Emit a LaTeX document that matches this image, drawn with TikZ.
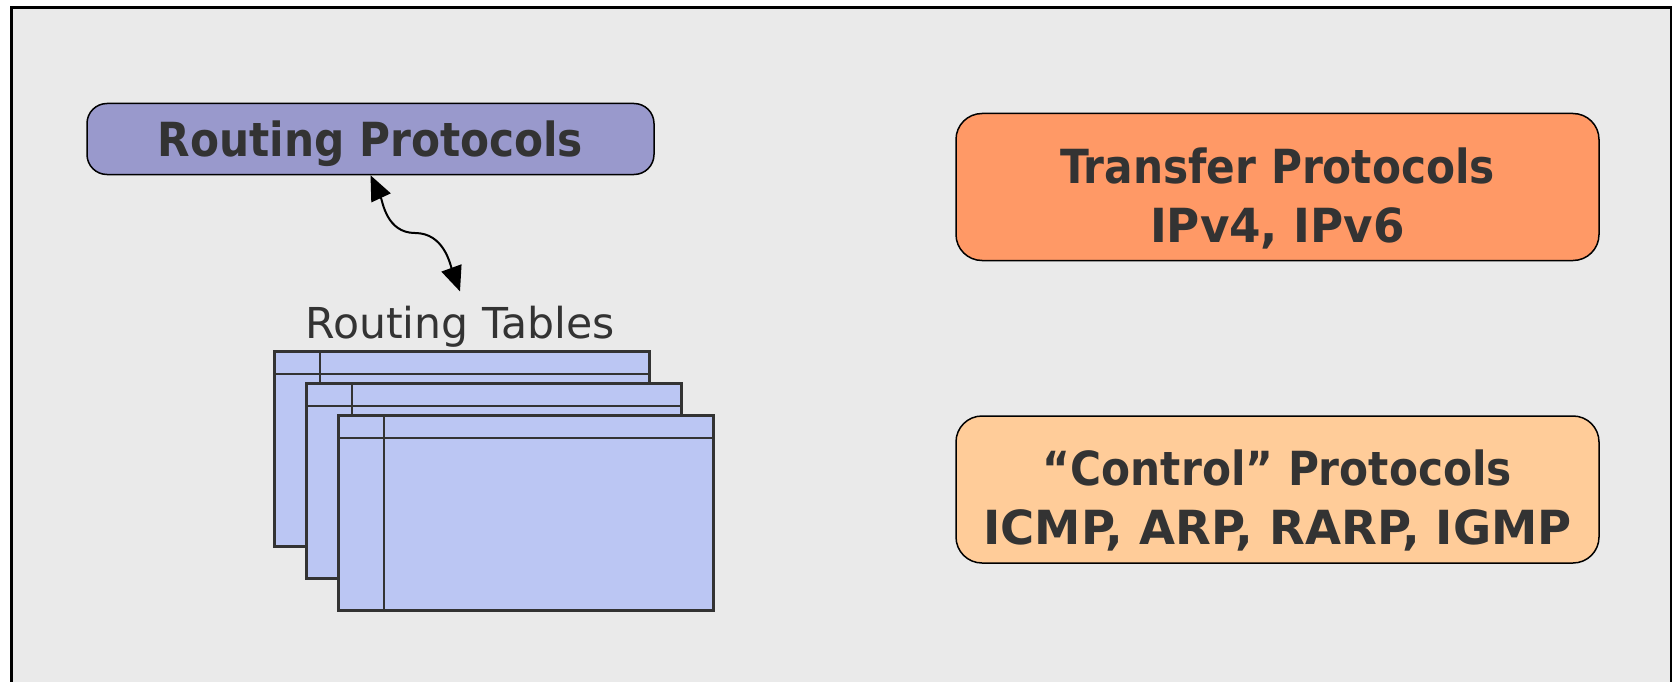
\documentclass[tikz,border=0pt]{standalone}
\usepackage{fontspec}
\setmainfont{DejaVu Sans Condensed}
\newfontfamily\widesans{DejaVu Sans}
\usetikzlibrary{arrows.meta}
\definecolor{bggray}{HTML}{EAEAEA}
\definecolor{routeblue}{HTML}{9999CC}
\definecolor{transorange}{HTML}{FF9966}
\definecolor{ctrlpeach}{HTML}{FFCC99}
\definecolor{tableblue}{HTML}{BBC6F3}
\definecolor{inkgray}{HTML}{333333}
\begin{document}
\begin{tikzpicture}[x=1pt,y=-1pt,
	proto/.style={draw,line width=1.5pt,rounded corners=26pt,text=inkgray,align=center,inner sep=0pt,
		font=\bfseries\fontsize{47}{59}\selectfont,minimum width=643pt,minimum height=147pt,
		text height=110pt,text depth=0pt},
	rtable/.style={draw=inkgray,fill=tableblue,line width=2.5pt,minimum width=375pt,minimum height=195pt,inner sep=0pt,anchor=north west},
	arr/.style={{Triangle[length=25pt,width=21pt]}-{Triangle[length=25pt,width=21pt]},line width=2pt}]
	\useasboundingbox (0,0) rectangle (1675,682);
	\clip (0,0) rectangle (1675,682);
	\draw[fill=bggray,line width=2.5pt] (11.5,7.5) rectangle (1671,700);
	% protocol boxes
	\node[proto,fill=routeblue,rounded corners=20pt,minimum width=567pt,minimum height=71pt,text height=34pt,text depth=0pt] (rp) at (370.5,139) {Routing Protocols};
	\node[proto,fill=transorange] (tp) at (1277.5,187) {Transfer Protocols\\\addfontfeatures{FakeStretch=1.07}IPv4, IPv6};
	\node[proto,fill=ctrlpeach] (cp) at (1277.5,489.5) {“Control” Protocols\\\addfontfeatures{FakeStretch=1.1}ICMP, ARP, RARP, IGMP};
	% routing tables
	\node[anchor=base,inner sep=0pt,text=inkgray,font=\widesans\fontsize{42.6}{50}\selectfont] (rt) at (460,338) {Routing Tables};
	\foreach \i in {0,1,2}{
		\node[rtable] (tab\i) at (273+32*\i,350+32*\i) {};
		\draw[inkgray,line width=2.5pt] ([yshift=-24pt]tab\i.north west) -- ([yshift=-24pt]tab\i.north east);
		\draw[inkgray,line width=2.5pt] ([xshift=47pt]tab\i.north west) -- ([xshift=47pt]tab\i.south west);
	}
	\coordinate (bend) at (415,233);
	\draw[arr] (rp.south) to[out=-65,in=180] (bend) to[out=0,in=110] ([yshift=14pt]rt.north);
\end{tikzpicture}
\end{document}
